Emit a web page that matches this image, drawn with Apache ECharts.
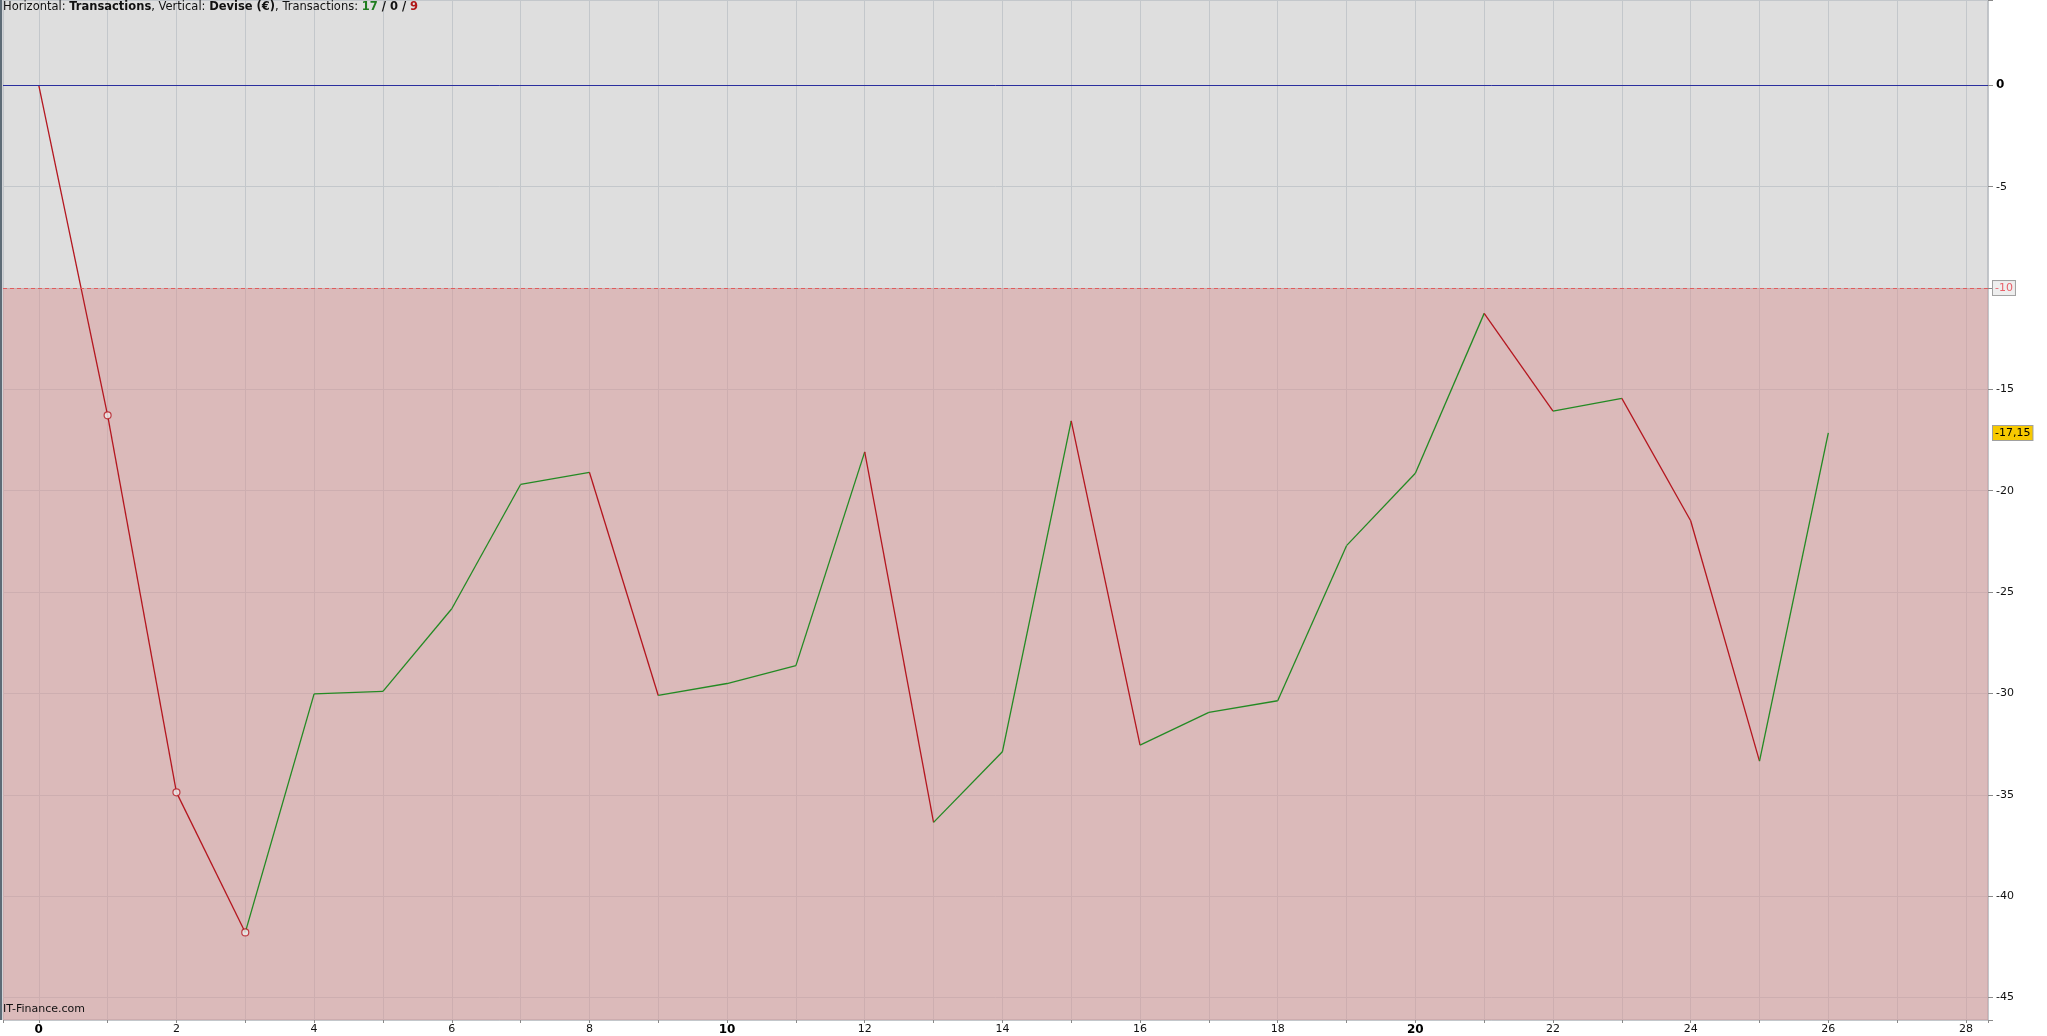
<!DOCTYPE html>
<html><head><meta charset="utf-8">
<script src="https://cdn.jsdelivr.net/npm/echarts@6/dist/echarts.min.js"></script>
<style>html,body{margin:0;padding:0;background:#fff}#c{width:2047px;height:1036px}</style>
</head><body><div id="c"></div>
<script>
// ---- data ----
const transactions = [0,1,2,3,4,5,6,7,8,9,10,11,12,13,14,15,16,17,18,19,20,21,22,23,24,25,26];
const equity = [0, -16.28, -34.88, -41.79, -30.02, -29.90, -25.82, -19.69, -19.09, -30.10, -29.51, -28.63, -18.08, -36.36, -32.88, -16.55, -32.55, -30.93, -30.36, -22.71, -19.14, -11.25, -16.07, -15.44, -21.48, -33.34, -17.15];
const markedPoints = [1, 2, 3];
const thresholdLevel = -10;
const winCount = 17, evenCount = 0, lossCount = 9;
const xLabel = 'Transactions';
const yLabel = 'Devise (€)';
const watermark = 'IT-Finance.com';

// ---- styles ----
const GREEN = '#238a23', RED = '#b4161f';
const FONT = 'DejaVu Sans';
const X_MIN = -0.52, X_MAX = 28.32, Y_MIN = -46.11, Y_MAX = 4.21;

const segments = [];
for (let i = 0; i < equity.length - 1; i++) {
  const up = equity[i + 1] >= equity[i];
  segments.push({
    coords: [[transactions[i], equity[i]], [transactions[i + 1], equity[i + 1]]],
    lineStyle: { color: up ? GREEN : RED }
  });
}
const pairs = transactions.map((t, i) => [t, equity[i]]);
const markers = markedPoints.map(i => [transactions[i], equity[i]]);
const last = equity[equity.length - 1];
const lastText = last.toFixed(2).replace('.', ',');

const HF = 11.5;
const chart = echarts.init(document.getElementById('c'), null, { renderer: 'canvas' });
chart.setOption({
  animation: false,
  backgroundColor: '#ffffff',
  textStyle: { fontFamily: FONT },
  title: {
    left: 3, top: 1, padding: 0,
    text: '{n|Horizontal: }{b|' + xLabel + '}{n|, Vertical: }{b|' + yLabel + '}{n|, Transactions: }{g|' + winCount + '}{b| / ' + evenCount + ' / }{r|' + lossCount + '}',
    textStyle: {
      fontFamily: FONT, fontSize: HF, fontWeight: 'normal',
      rich: {
        n: { fontFamily: FONT, fontSize: HF, color: '#111', fontWeight: 'normal' },
        b: { fontFamily: FONT, fontSize: HF, color: '#111', fontWeight: 'bold' },
        g: { fontFamily: FONT, fontSize: HF, color: '#1f7d1f', fontWeight: 'bold' },
        r: { fontFamily: FONT, fontSize: HF, color: '#b01818', fontWeight: 'bold' }
      }
    }
  },
  grid: {
    left: 2, right: 59, top: 0, bottom: 16,
    show: true, backgroundColor: '#dedede', borderColor: '#a2a6ae', borderWidth: 1
  },
  xAxis: {
    type: 'value', min: X_MIN, max: X_MAX, minInterval: 1, maxInterval: 1, splitNumber: 28,
    axisLine: { show: false, onZero: false },
    axisTick: { show: true, length: 3, lineStyle: { color: '#8a8a8a' } },
    splitLine: { show: true, lineStyle: { color: '#c3c7cb', width: 1 } },
    axisLabel: {
      margin: 4, fontSize: 11, color: '#111', fontFamily: FONT,
      formatter: v => {
        if (Math.abs(v - Math.round(v)) > 1e-6) return '';
        const r = Math.round(v);
        if (r % 2 !== 0 || r < 0) return '';
        return r % 10 === 0 ? '{b|' + r + '}' : String(r);
      },
      rich: { b: { fontSize: 12, fontWeight: 'bold', color: '#000', fontFamily: FONT } }
    }
  },
  yAxis: {
    type: 'value', position: 'right', min: Y_MIN, max: Y_MAX, minInterval: 5, maxInterval: 5, splitNumber: 10,
    axisLine: { show: false, onZero: false },
    axisTick: { show: true, length: 5, lineStyle: { color: '#8a8a8a' } },
    splitLine: { show: true, lineStyle: { color: '#c3c7cb', width: 1 } },
    axisLabel: {
      margin: 8, fontSize: 11, color: '#111', fontFamily: FONT,
      formatter: v => {
        const r = Math.round(v / 5) * 5;
        if (Math.abs(v - r) > 1e-6) return '';
        if (r === thresholdLevel) return '';
        return r === 0 ? '{b|0}' : String(r);
      },
      rich: { b: { fontSize: 12, fontWeight: 'bold', color: '#000', fontFamily: FONT } }
    }
  },
  series: [
    {
      type: 'line', data: pairs, showSymbol: false, silent: true, z: 1,
      lineStyle: { opacity: 0 },
      markArea: {
        silent: true,
        itemStyle: { color: 'rgba(216,150,150,0.5)' },
        data: [[{ yAxis: thresholdLevel }, { yAxis: Y_MIN }]]
      },
      markLine: {
        silent: true, symbol: ['none', 'none'], animation: false,
        data: [
          { yAxis: 0, lineStyle: { color: '#2a2f9e', type: 'solid', width: 1 }, label: { show: false } },
          { yAxis: thresholdLevel, lineStyle: { color: '#e05c5c', type: [4, 3], width: 1 },
            label: { show: true, position: 'end', distance: 5, formatter: String(thresholdLevel), color: '#e8606a', fontSize: 11, fontFamily: FONT,
              backgroundColor: '#eeeeee', borderColor: '#a0a0a0', borderWidth: 1, padding: [2, 2, 1, 2] } },
          { yAxis: last, lineStyle: { color: 'rgba(0,0,0,0)', width: 1, opacity: 1 },
            label: { show: true, position: 'end', distance: 5, formatter: lastText, color: '#000', fontSize: 11, fontFamily: FONT,
              backgroundColor: '#f7c900', borderColor: '#a0a0a0', borderWidth: 1, padding: [2, 2, 1, 2] } }
        ]
      }
    },
    {
      type: 'lines', coordinateSystem: 'cartesian2d', polyline: false, silent: true, z: 3,
      lineStyle: { width: 1.3, opacity: 1 },
      data: segments
    },
    {
      type: 'scatter', data: markers, symbol: 'circle', symbolSize: 7, silent: true, z: 4,
      itemStyle: { color: '#ececec', borderColor: RED, borderWidth: 1.2 }
    }
  ],
  graphic: [
    { type: 'rect', left: 0, top: 0, shape: { width: 2, height: 1020 }, style: { fill: '#5d6b76' }, z: 100 },
    { type: 'text', left: 3, top: 1004, style: { text: watermark, fontSize: 11, fontFamily: FONT, fill: '#111' }, z: 100 }
  ]
});
</script>
</body></html>
